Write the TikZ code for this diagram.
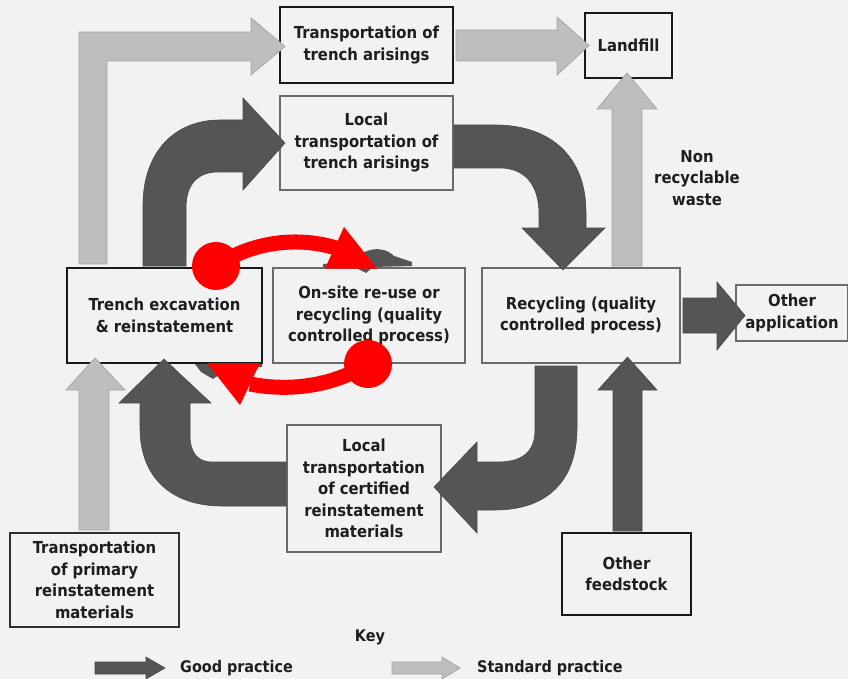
\documentclass[tikz,border=0pt]{standalone}
\usepackage{fontspec}
\setmainfont{DejaVu Sans Condensed}
\definecolor{bg}{HTML}{F2F2F2}
\definecolor{darkarrow}{HTML}{555555}
\definecolor{darkedge}{HTML}{4A4A4A}
\definecolor{lightarrow}{HTML}{BEBEBE}
\definecolor{lightedge}{HTML}{A6A6A6}
\definecolor{boxgray}{HTML}{6A6A6A}
\definecolor{boxdark}{HTML}{2E2E2E}
\definecolor{txt}{HTML}{1E1E1E}
\definecolor{redc}{HTML}{FF0000}
\begin{document}
\begin{tikzpicture}[x=1pt,y=-1pt,
  box/.style={draw=black!90, line width=2.2pt, fill=bg, inner sep=0pt, align=center,
    font=\bfseries\fontsize{16.5}{21.5}\selectfont, text=txt},
  graybox/.style={box, draw=boxgray, line width=1.8pt},
  darkbox/.style={box, draw=boxdark, line width=2pt},
  label/.style={inner sep=0pt, align=center, font=\bfseries\fontsize{16.5}{21.5}\selectfont, text=txt},
  keylabel/.style={inner sep=0pt, font=\bfseries\fontsize{16}{17}\selectfont, text=txt},
  good/.style={fill=darkarrow, draw=darkedge, line width=0.6pt, line join=miter},
  std/.style={fill=lightarrow, draw=lightedge, line width=0.8pt, line join=miter},
  hidden/.style={fill=darkarrow},
  redline/.style={draw=redc, line width=15pt},
  redfill/.style={fill=redc}]
\fill[bg] (0,0) rectangle (848,679);
\useasboundingbox (0,0) rectangle (848,679);

% ---------- boxes ----------
\node[box, minimum width=173pt, minimum height=76pt] (tta) at (366.5,45) {Transportation of\\trench arisings};
\node[box, minimum width=87pt, minimum height=65pt] (landfill) at (628.5,45.5) {Landfill};
\node[graybox, minimum width=173pt, minimum height=94pt] (lta) at (366.5,143) {Local\\transportation of\\trench arisings};
\node[box, minimum width=195pt, minimum height=95pt] (trench) at (164.5,315.5) {Trench excavation\\\& reinstatement};
\node[graybox, minimum width=192pt, minimum height=95pt] (onsite) at (369,315.5) {On-site re-use or\\recycling (quality\\controlled process)};
\node[graybox, minimum width=198pt, minimum height=95pt] (recyc) at (581,315.5) {Recycling (quality\\controlled process)};
\node[graybox, minimum width=112pt, minimum height=56pt] (otherapp) at (792,313) {Other\\application};
\node[graybox, minimum width=154pt, minimum height=127pt] (ltc) at (364,488.5) {Local\\transportation\\of certified\\reinstatement\\materials};
\node[darkbox, minimum width=169pt, minimum height=94pt] (tpr) at (94.5,580) {Transportation\\of primary\\reinstatement\\materials};
\node[box, minimum width=129pt, minimum height=82pt] (feed) at (626.5,574) {Other\\feedstock};

\node[label] (nrw) at (697,178) {Non\\recyclable\\waste};

% ---------- standard practice (light) arrows ----------
% trench -> transportation of trench arisings
\draw[std] (79,264) -- (79,32) -- (251,32) -- (251,18) -- (285,46.5) -- (251,75) -- (251,61) -- (107,61) -- (107,264) -- cycle;
% transportation of trench arisings -> landfill
\draw[std] (456,30) -- (557,30) -- (557,17) -- (589,45.5) -- (557,75) -- (557,61) -- (456,61) -- cycle;
% recycling -> landfill
\draw[std] (612,266) -- (612,109) -- (597,109) -- (627,73) -- (657,109) -- (642,109) -- (642,266) -- cycle;
% primary materials -> trench
\draw[std] (79,530) -- (79,390) -- (66,390) -- (95,358) -- (125,390) -- (109,390) -- (109,530) -- cycle;

% ---------- good practice (dark) arrows ----------
% trench -> local transportation of trench arisings
\draw[good] (143,266) -- (143,205) .. controls (143,155) and (172,120) .. (220,120) -- (243,120)
  -- (243,98) -- (285,143) -- (243,190) -- (243,172) -- (218,172)
  .. controls (198,172) and (186,184) .. (186,208) -- (186,266) -- cycle;
% local transportation of trench arisings -> recycling
\draw[good] (454,125) -- (495,125) .. controls (552,125) and (586,158) .. (586,212) -- (586,228)
  -- (605,228) -- (563,270) -- (522,228) -- (539,228) -- (539,214)
  .. controls (539,184) and (524,168) .. (500,168) -- (454,168) -- cycle;
% recycling -> local transportation of certified materials
\draw[good] (535,366) -- (535,430) .. controls (535,452) and (522,462) .. (498,462) -- (477,462)
  -- (477,442) -- (434,487) -- (477,533) -- (477,510) -- (495,510)
  .. controls (548,510) and (577,480) .. (577,428) -- (577,366) -- cycle;
% local transportation of certified materials -> trench
\draw[good] (286,462) -- (212,462) .. controls (197,462) and (190,452) .. (190,435) -- (190,403)
  -- (211,403) -- (164,359) -- (119,403) -- (140,403) -- (140,428)
  .. controls (140,478) and (172,506) .. (222,506) -- (286,506) -- cycle;
% recycling -> other application
\draw[good] (683,298) -- (717,298) -- (717,282) -- (745,315.5) -- (717,350) -- (717,333) -- (683,333) -- cycle;
% other feedstock -> recycling
\draw[good] (613,531) -- (613,390) -- (598,390) -- (627.5,357) -- (657,390) -- (642,390) -- (642,531) -- cycle;

% original small arrows under the red marks
\fill[hidden] (323,264) -- (352,262) .. controls (362,249) and (382,244) .. (394,256) -- (412,262)
  -- (412,266) -- (373,267) -- (366,273) -- (356,268) -- (323,267) -- cycle;
\fill[hidden] (195,364) -- (262,364) -- (262,367) -- (226,370) -- (213,379) -- (201,372) -- cycle;

% ---------- red overlay arrows ----------
\coordinate (r1s) at (216,266);
\coordinate (r1e) at (336,248);
\draw[redline] (r1s) .. controls (255,240) and (300,237) .. (r1e);
\fill[redfill] (r1s) circle (24pt);
\fill[redfill] (344,227) -- (377,268.5) -- (325,268.5) -- cycle;

\coordinate (r2s) at (368,364);
\coordinate (r2e) at (250,384);
\draw[redline] (r2s) .. controls (330,388) and (285,391) .. (r2e);
\fill[redfill] (r2s) circle (24pt);
\fill[redfill] (260,363) -- (240,405) -- (207,363) -- cycle;

% ---------- key ----------
\node[keylabel] (key) at (370,637) {Key};
\draw[good] (95,662) -- (146,662) -- (146,657) -- (165,668) -- (146,679) -- (146,674) -- (95,674) -- cycle;
\node[keylabel, anchor=west] (goodlbl) at (180,668) {Good practice};
\draw[std] (392,662) -- (442,662) -- (442,657) -- (460,668) -- (442,679) -- (442,674) -- (392,674) -- cycle;
\node[keylabel, anchor=west] (stdlbl) at (477,668) {Standard practice};
\end{tikzpicture}
\end{document}
